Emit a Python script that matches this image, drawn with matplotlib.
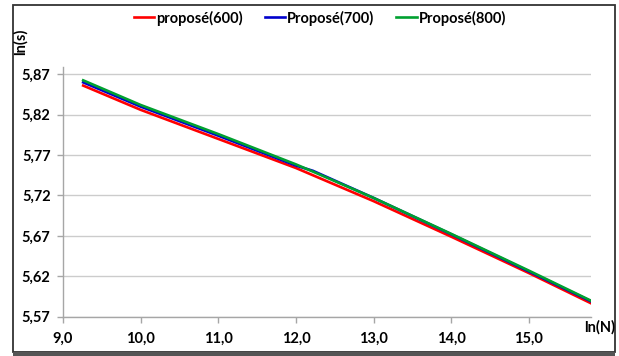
import matplotlib
matplotlib.use("Agg")
import matplotlib.pyplot as plt
from matplotlib.patches import Rectangle

# Data
x_red = [9.26, 10.0, 11.0, 12.0, 13.0, 14.0, 15.0, 15.8]
y_red = [5.856, 5.826, 5.790, 5.754, 5.713, 5.669, 5.624, 5.5866]

x_blue = [9.26, 10.0, 11.0, 12.0, 12.22, 13.0, 14.0, 15.0, 15.8]
y_blue = [5.860, 5.830, 5.794, 5.757, 5.7505, 5.717, 5.672, 5.626, 5.589]

x_green = [9.26, 10.0, 11.0, 12.0, 12.22, 13.0, 14.0, 15.0, 15.8]
y_green = [5.8625, 5.832, 5.796, 5.7585, 5.7495, 5.717, 5.6725, 5.627, 5.5898]

labels = ["proposé(600)", "Proposé(700)", "Proposé(800)"]
xticks = [9.0, 10.0, 11.0, 12.0, 13.0, 14.0, 15.0]
yticks = [5.57, 5.62, 5.67, 5.72, 5.77, 5.82, 5.87]

plt.rcParams['font.family'] = ['Lato', 'DejaVu Sans']
FS = 10.5

fig = plt.figure(figsize=(6.19, 3.56), dpi=100)
ax = fig.add_axes([63/619, 39.3/356, (591-63)/619, (316.7-67)/356])

ax.plot(x_red, y_red, color='#ff0000', lw=1.9, label=labels[0], zorder=3)
ax.plot(x_blue, y_blue, color='#0000cc', lw=1.9, label=labels[1], zorder=3)
ax.plot(x_green, y_green, color='#00a030', lw=1.9, label=labels[2], zorder=3)

ax.set_xlim(9.0, 15.8)
ax.set_ylim(5.57, 5.879)
ax.set_xticks(xticks)
ax.set_yticks(yticks)
ax.set_xticklabels([f"{v:.1f}".replace('.', ',') for v in xticks], fontweight='bold', fontsize=FS)
ax.set_yticklabels([f"{v:.2f}".replace('.', ',') for v in yticks], fontweight='bold', fontsize=FS)

ax.grid(axis='y', color='#cccccc', lw=1.0)
ax.set_axisbelow(True)
for s in ['top', 'right']:
    ax.spines[s].set_visible(False)
for s in ['left', 'bottom']:
    ax.spines[s].set_color('#a6a6a6')
    ax.spines[s].set_linewidth(1.0)
ax.tick_params(axis='both', direction='out', length=4, color='#a6a6a6', width=1.0, pad=5)
ax.tick_params(axis='x', pad=7)

fig.text(600/619, 1 - 327/356, "ln(N)", ha='center', va='center', fontsize=FS, fontweight='bold')
fig.text(20/619, 1 - 42/356, "ln(s)", ha='center', va='center', rotation=90, fontsize=FS, fontweight='bold')

leg = fig.legend(loc='center', bbox_to_anchor=(320/619, 1 - 18/356), ncol=3, frameon=False,
                 prop={'weight': 'bold', 'size': FS}, handlelength=1.4, handletextpad=0.15,
                 columnspacing=1.5)

# outer frame
fig.patches.append(Rectangle((13/619, 4/356), (615-13)/619, (351-4)/356, transform=fig.transFigure,
                             fill=False, edgecolor='#333333', lw=1.3))
fig.patches.append(Rectangle((13/619, 0), (615-13)/619, 4/356, transform=fig.transFigure,
                             facecolor='#555555', edgecolor='none'))

fig.savefig("out.png", dpi=100)
